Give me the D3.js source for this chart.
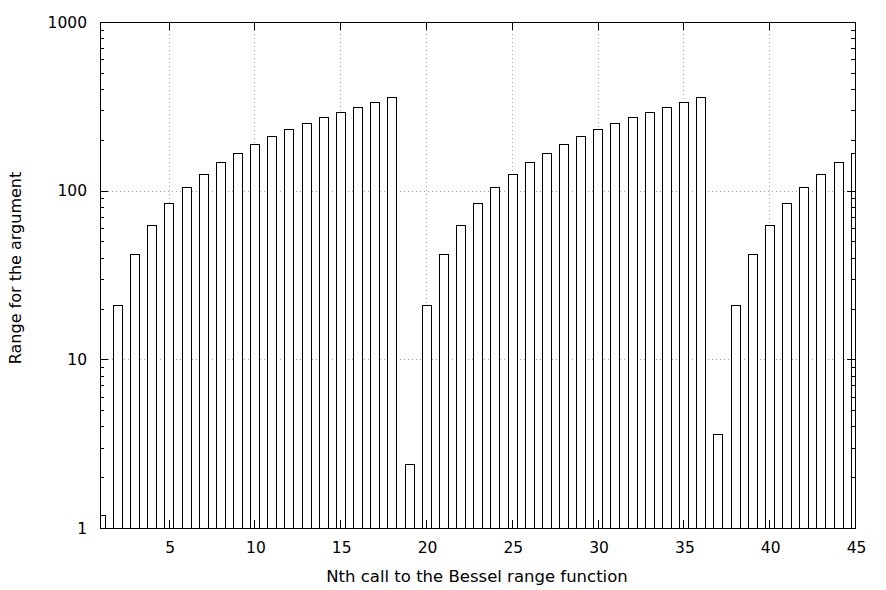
<!DOCTYPE html>
<html>
<head>
<meta charset="utf-8">
<script src="https://cdn.jsdelivr.net/npm/d3@7"></script>
<style>
  body { margin: 0; background: #fff; }
  text { font-family: "DejaVu Sans", sans-serif; fill: #000; }
</style>
</head>
<body>
<script>
// call number and argument range
var calls = [1, 2, 3, 4, 5, 6, 7, 8, 9, 10, 11, 12, 13, 14, 15,
             16, 17, 18, 19, 20, 21, 22, 23, 24, 25, 26, 27, 28, 29, 30,
             31, 32, 33, 34, 35, 36, 37, 38, 39, 40, 41, 42, 43, 44, 45];
var ranges = [1.2, 21, 42, 63, 84, 105, 126, 147, 168, 189, 210, 231, 252, 273, 294,
              315, 336, 357, 2.4, 21, 42, 63, 84, 105, 126, 147, 168, 189, 210, 231,
              252, 273, 294, 315, 336, 357, 3.6, 21, 42, 63, 84, 105, 126, 147, 168];
var xTicks = [5, 10, 15, 20, 25, 30, 35, 40, 45];
var yTicks = [1, 10, 100, 1000];

var width = 886, height = 590;
var m = {left: 100, right: 31, top: 22, bottom: 62};
var pw = width - m.left - m.right, ph = height - m.top - m.bottom;

var svg = d3.select('body').append('svg')
    .attr('width', width)
    .attr('height', height);

var x = d3.scaleLinear().domain([1, 45]).range([m.left, m.left + pw]);
var y = d3.scaleLog().domain([1, 1000]).range([m.top + ph, m.top]);

svg.append('clipPath').attr('id', 'clip')
  .append('rect')
    .attr('x', m.left).attr('y', m.top)
    .attr('width', pw).attr('height', ph);

// dotted grid
var grid = svg.append('g')
    .attr('stroke', '#a0a0a0')
    .attr('stroke-width', 1)
    .attr('stroke-dasharray', '1,3');
grid.selectAll('line.gx')
    .data(xTicks.filter(function (d) { return d < 45; }))
    .enter().append('line')
        .attr('x1', function (d) { return Math.round(x(d)) + 0.5; })
        .attr('x2', function (d) { return Math.round(x(d)) + 0.5; })
        .attr('y1', m.top).attr('y2', m.top + ph);
grid.selectAll('line.gy')
    .data([10, 100])
    .enter().append('line')
        .attr('y1', function (d) { return Math.round(y(d)) + 0.5; })
        .attr('y2', function (d) { return Math.round(y(d)) + 0.5; })
        .attr('x1', m.left).attr('x2', m.left + pw);

// bars, half a unit wide
var bw = x(1.5) - x(1);
svg.append('g')
    .attr('clip-path', 'url(#clip)')
  .selectAll('rect')
    .data(calls)
    .enter().append('rect')
        .attr('x', function (d) { return Math.round(x(d) - bw / 2) + 0.5; })
        .attr('y', function (d, i) { return Math.round(y(ranges[i])) + 0.5; })
        .attr('width', Math.round(bw))
        .attr('height', function (d, i) { return Math.round(y(1)) - Math.round(y(ranges[i])); })
        .attr('fill', '#fff')
        .attr('stroke', '#000')
        .attr('stroke-width', 1);

// axes with inward ticks, mirrored
var tick = svg.append('g').attr('stroke', '#000').attr('stroke-width', 1);
xTicks.forEach(function (d) {
    var px = Math.round(x(d)) + 0.5;
    tick.append('line').attr('x1', px).attr('x2', px).attr('y1', m.top + ph).attr('y2', m.top + ph - 8);
    tick.append('line').attr('x1', px).attr('x2', px).attr('y1', m.top).attr('y2', m.top + 8);
});
[1, 10, 100].forEach(function (dec) {
    for (var k = 1; k <= 10; k++) {
        var v = dec * k;
        if (v > 1000) break;
        var py = Math.round(y(v)) + 0.5;
        var len = (k === 1 || k === 10) ? 8 : 4;
        tick.append('line').attr('x1', m.left).attr('x2', m.left + len).attr('y1', py).attr('y2', py);
        tick.append('line').attr('x1', m.left + pw).attr('x2', m.left + pw - len).attr('y1', py).attr('y2', py);
    }
});

svg.append('rect')
    .attr('x', m.left + 0.5).attr('y', m.top + 0.5)
    .attr('width', pw).attr('height', ph)
    .attr('fill', 'none').attr('stroke', '#000').attr('stroke-width', 1);

svg.append('g').selectAll('text')
    .data(xTicks)
    .enter().append('text')
        .attr('x', function (d) { return x(d) + 1.5; })
        .attr('y', m.top + ph + 25)
        .attr('text-anchor', 'middle')
        .style('font-size', '15.5px')
        .text(function (d) { return d; });

svg.append('g').selectAll('text')
    .data(yTicks)
    .enter().append('text')
        .attr('x', m.left - 13)
        .attr('y', function (d) { return y(d) + 5.6; })
        .attr('text-anchor', 'end')
        .style('font-size', '15.5px')
        .text(function (d) { return d; });

svg.append('text')
    .attr('x', 477)
    .attr('y', 582)
    .attr('text-anchor', 'middle')
    .style('font-size', '16.5px')
    .text('Nth call to the Bessel range function');

svg.append('text')
    .attr('transform', 'translate(21,268) rotate(-90)')
    .attr('text-anchor', 'middle')
    .style('font-size', '16px')
    .text('Range for the argument');
</script>
</body>
</html>
